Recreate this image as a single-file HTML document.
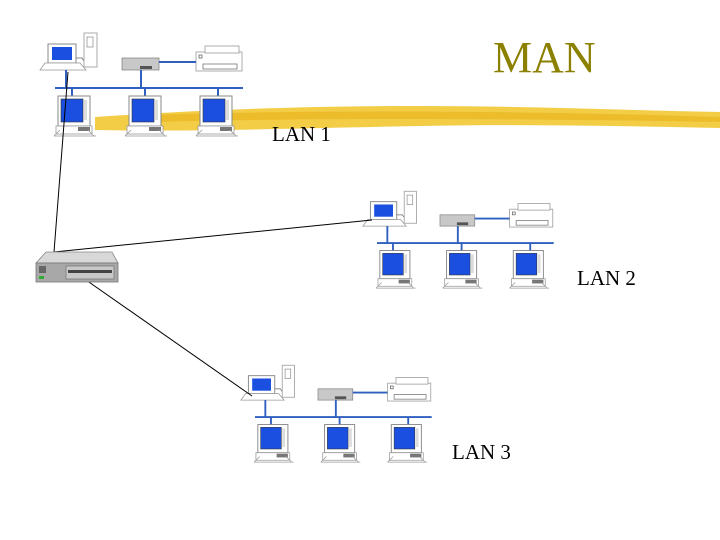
<!DOCTYPE html>
<html><head><meta charset="utf-8"><style>
html,body{margin:0;padding:0;background:#fff;}
svg{display:block;}
text{font-family:"Liberation Serif",serif;}
</style></head><body>
<svg width="720" height="540" viewBox="0 0 720 540" xmlns="http://www.w3.org/2000/svg">
<defs>
<g id="pc">
  <rect x="0" y="0" width="32" height="30" fill="#fff" stroke="#888" stroke-width="1"/>
  <rect x="3" y="3" width="22" height="23" fill="#1a4fe0" stroke="#333" stroke-width="0.6"/>
  <rect x="26" y="4" width="3" height="20" fill="#ddd"/>
  <rect x="-2" y="30" width="36" height="8" fill="#fff" stroke="#999" stroke-width="0.8"/>
  <rect x="20" y="31" width="12" height="4" fill="#777"/>
  <path d="M-4 40 L2 34 M36 40 L30 34 M-4 40 L38 40" stroke="#999" stroke-width="0.8" fill="none"/>
</g>
<g id="lan">
  <!-- top workstation -->
  <rect x="48" y="44" width="28" height="19" fill="#fff" stroke="#888"/>
  <rect x="52" y="47" width="20" height="13" fill="#1a4fe0"/>
  <path d="M40 70 L45 63 L80 63 L86 70 Z" fill="#fff" stroke="#999" stroke-width="0.8"/>
  <path d="M76 58 L82 58 L86 64" stroke="#666" fill="none" stroke-width="0.8"/>
  <rect x="84" y="33" width="13" height="34" fill="#fff" stroke="#aaa"/>
  <rect x="87" y="37" width="6" height="10" fill="#fff" stroke="#888" stroke-width="0.7"/>
  <!-- hub -->
  <rect x="122" y="58" width="37" height="12" fill="#c8c8c8" stroke="#888" stroke-width="0.8"/>
  <rect x="140" y="66" width="12" height="3" fill="#555"/>
  <!-- printer -->
  <rect x="196" y="52" width="46" height="19" fill="#fff" stroke="#999" stroke-width="0.8"/>
  <rect x="205" y="46" width="34" height="7" fill="#fff" stroke="#999" stroke-width="0.8"/>
  <rect x="203" y="64" width="34" height="5" fill="#fff" stroke="#777" stroke-width="0.8"/>
  <rect x="199" y="55" width="3" height="3" fill="#fff" stroke="#555" stroke-width="0.7"/>
  <!-- blue links -->
  <g stroke="#2f5fbf" stroke-width="2" fill="none">
    <line x1="159" y1="62" x2="196" y2="62"/>
    <line x1="141" y1="70" x2="141" y2="88"/>
    <line x1="66" y1="70" x2="66" y2="88"/>
    <line x1="55" y1="88" x2="243" y2="88"/>
    <line x1="72" y1="88" x2="72" y2="96"/>
    <line x1="145" y1="88" x2="145" y2="96"/>
    <line x1="218" y1="88" x2="218" y2="96"/>
  </g>
  <use href="#pc" x="58" y="96"/>
  <use href="#pc" x="129" y="96"/>
  <use href="#pc" x="200" y="96"/>
</g>
</defs>

<!-- yellow brush stroke -->
<path d="M95 117 C200 110 300 106 420 106 C520 106 620 110 720 112 L720 128 C620 126 520 124 420 126 C300 128 200 132 95 130 Z" fill="#f2c832" opacity="0.9"/>
<path d="M150 115 C300 110 500 110 720 117 L720 122 C500 118 300 118 150 122 Z" fill="#e8b520" opacity="0.7"/>

<use href="#lan"/>
<g transform="translate(325.3,160.3) scale(0.94)"><use href="#lan"/></g>
<g transform="translate(203.3,334.3) scale(0.94)"><use href="#lan"/></g>

<!-- black connectors -->
<g stroke="#000" stroke-width="1" fill="none">
  <line x1="68" y1="72" x2="54" y2="252"/>
  <line x1="54" y1="252" x2="372" y2="220"/>
  <line x1="86" y1="280" x2="252" y2="396"/>
</g>

<!-- server -->
<path d="M36 263 L46 252 L112 252 L118 263 Z" fill="#d8d8d8" stroke="#888" stroke-width="0.8"/>
<rect x="36" y="263" width="82" height="19" fill="#a8a8a8" stroke="#777" stroke-width="0.8"/>
<rect x="39" y="266" width="7" height="7" fill="#666"/>
<rect x="39" y="276" width="5" height="3" fill="#3a3"/>
<rect x="66" y="266" width="48" height="13" fill="#c8c8c8" stroke="#666" stroke-width="0.6"/>
<rect x="68" y="270" width="44" height="3" fill="#444"/>

<text x="493" y="72" font-size="44" fill="#8b8000">MAN</text>
<text x="272" y="141" font-size="21" fill="#000">LAN 1</text>
<text x="577" y="285" font-size="21" fill="#000">LAN 2</text>
<text x="452" y="459" font-size="21" fill="#000">LAN 3</text>
</svg>
</body></html>
